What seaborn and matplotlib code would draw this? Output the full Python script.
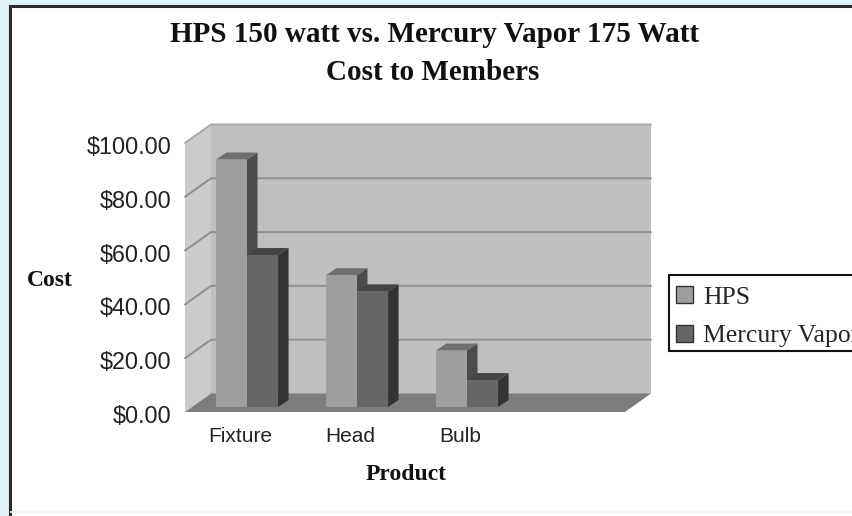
import seaborn as sns
import matplotlib.pyplot as plt
import pandas as pd
from matplotlib.patches import Polygon, Rectangle
from matplotlib.transforms import ScaledTranslation

products = ["Fixture", "Head", "Bulb", " "]
hps = [92, 49, 21, 0]
mercury = [56.5, 43, 10, 0]
yticks = [0, 20, 40, 60, 80, 100]
ylabels = ["$0.00", "$20.00", "$40.00", "$60.00", "$80.00", "$100.00"]

W, H = 852, 516
sns.set_style("white")
plt.rcParams["font.family"] = ["Liberation Sans", "DejaVu Sans"]

df = pd.DataFrame({"Product": products * 2,
                   "Cost": hps + mercury,
                   "Series": ["HPS"] * 4 + ["Mercury Vapor"] * 4})


def box(left, right, top, bottom):
    return [left / W, 1 - bottom / H, (right - left) / W, (bottom - top) / H]


fig = plt.figure(figsize=(W / 100, H / 100), dpi=100, facecolor="#dff1fb")
fig.patches.append(Rectangle((9.5 / W, -0.02), 1, 1.02 - 6 / H, transform=fig.transFigure,
                             facecolor="white", edgecolor="#2a2a2a", linewidth=2.2, zorder=-1))
fig.lines.append(plt.Line2D([11 / W, 1], [1 - 512 / H, 1 - 512 / H], transform=fig.transFigure,
                            color="#efefef", lw=1.5, zorder=-0.5))

# front plane: tick labels and the walls
ax = fig.add_axes(box(185, 625, 143, 412))
ax.set_xlim(0, 4)
ax.set_ylim(0, 100)
ax.patch.set_alpha(0)
sns.despine(ax=ax, left=True, bottom=True, top=True, right=True)
dx = 26 / 110
dy = 18.5 / 2.69
ax.add_patch(Polygon([(dx, dy), (4 + dx, dy), (4 + dx, 100 + dy), (dx, 100 + dy)],
                     facecolor="#bfbfbf", edgecolor="none", clip_on=False))
ax.add_patch(Polygon([(0, 0), (dx, dy), (dx, 100 + dy), (0, 100)],
                     facecolor="#cbcbcb", edgecolor="none", clip_on=False))
ax.add_patch(Polygon([(0, 0), (4, 0), (4 + dx, dy), (dx, dy)],
                     facecolor="#7d7d7d", edgecolor="none", clip_on=False))
for v in yticks[1:]:
    c = "#a8a8a8" if v == 100 else "#909090"
    ax.plot([0, dx, 4 + dx], [v, v + dy, v + dy], color=c, lw=1.4, clip_on=False)
ax.set_xticks([0.5, 1.5, 2.5])
ax.set_xticklabels(products[:3], fontsize=15, color="#222222")
ax.set_yticks(yticks)
ax.set_yticklabels(ylabels, fontsize=16.8, color="#222222")
ax.tick_params(axis="x", length=0, pad=11)
ax.tick_params(axis="y", length=0, pad=10)
for lab in ax.get_yticklabels():
    lab.set_transform(lab.get_transform() + ScaledTranslation(0, -2 / 100, fig.dpi_scale_trans))

# bars stand halfway into the floor
bx = fig.add_axes(box(192, 632, 138, 407))
bx.patch.set_alpha(0)
sns.barplot(data=df, x="Product", y="Cost", hue="Series", order=products,
            palette=["#9e9e9e", "#666666"], saturation=1, width=0.565, gap=0,
            edgecolor="none", linewidth=0, legend=False, ax=bx)
bx.set_xlim(-0.5, 3.5)
bx.set_ylim(0, 100)
bx.axis("off")

bar_dx = 10.5 / 110
bar_dy = 7 / 2.69
tops = ["#6f6f6f", "#454545"]
sides = ["#4c4c4c", "#333333"]
handles = []
for i, cont in enumerate(bx.containers):
    handles.append(Rectangle((0, 0), 1, 1, facecolor=cont[0].get_facecolor(), edgecolor="#333333"))
    for p in cont:
        if p.get_height() == 0:
            continue
        x0, x1, h = p.get_x(), p.get_x() + p.get_width(), p.get_height()
        bx.add_patch(Polygon([(x1, 0), (x1 + bar_dx, bar_dy), (x1 + bar_dx, h + bar_dy), (x1, h)],
                             facecolor=sides[i], edgecolor="none", zorder=2 + i, clip_on=False))
        bx.add_patch(Polygon([(x0, h), (x1, h), (x1 + bar_dx, h + bar_dy), (x0 + bar_dx, h + bar_dy)],
                             facecolor=tops[i], edgecolor="none", zorder=2 + i, clip_on=False))
        p.set_zorder(2.5 + i)

serif = ["Liberation Serif", "DejaVu Serif"]
fig.text(434 / W, 1 - 34 / H, "HPS 150 watt vs. Mercury Vapor 175 Watt", ha="center", va="center",
         fontsize=21, fontweight="bold", family=serif, color="#111111")
fig.text(433 / W, 1 - 73 / H, "Cost to Members", ha="center", va="center",
         fontsize=21, fontweight="bold", family=serif, color="#111111")
fig.text(49.5 / W, 1 - 280 / H, "Cost", ha="center", va="center",
         fontsize=17, fontweight="bold", family=serif, color="#111111")
fig.text(406 / W, 1 - 475 / H, "Product", ha="center", va="center",
         fontsize=17, fontweight="bold", family=serif, color="#111111")

# legend box runs off the right edge like the scan does
fig.patches.append(Rectangle((669 / W, 1 - 351 / H), 0.3, 76 / H, transform=fig.transFigure,
                             facecolor="white", edgecolor="#111111", linewidth=1.5, zorder=-0.4))
fig.legend(handles, ["HPS", "Mercury Vapor"], loc="upper left",
           bbox_to_anchor=(669 / W, 1 - 279 / H), bbox_transform=fig.transFigure,
           borderaxespad=0, frameon=False,
           prop={"family": serif, "size": 18.5}, handlelength=0.64, handleheight=0.64,
           handletextpad=0.4, labelspacing=0.62, borderpad=0.28)

fig.savefig("out.png", dpi=100)
